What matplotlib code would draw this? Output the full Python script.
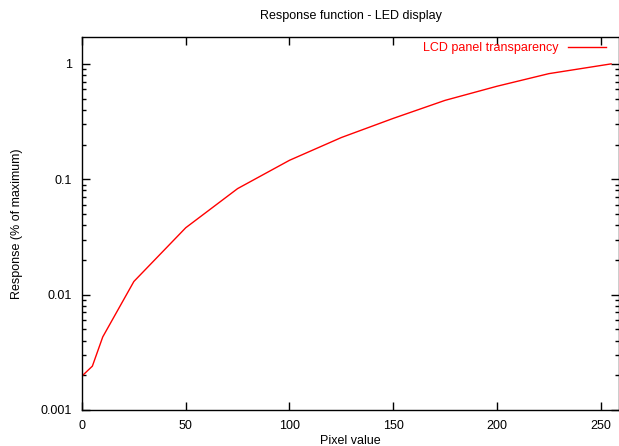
import matplotlib

matplotlib.use("Agg")
import matplotlib.pyplot as plt
from matplotlib.ticker import LogLocator, FixedLocator, NullFormatter

# pixel value vs. relative response
pixel = [0, 5, 10, 25, 50, 75, 100, 125, 150, 175, 200, 225, 255]
response = [0.00197, 0.0024, 0.0043, 0.013, 0.038, 0.083, 0.146, 0.23, 0.337,
            0.483, 0.64, 0.823, 1.0]

title = "Response function - LED display"
series_label = "LCD panel transparency"
xticks = [0, 50, 100, 150, 200, 250]
yticks = [0.001, 0.01, 0.1, 1]
ytick_labels = ["0.001", "0.01", "0.1", "1"]

plt.rcParams["font.family"] = ["Liberation Sans", "DejaVu Sans"]
plt.rcParams["font.size"] = 9

fig = plt.figure(figsize=(6.19, 4.46), dpi=100)
ax = fig.add_axes([82 / 619, 36 / 446, 537 / 619, 373 / 446])

ax.plot(pixel, response, color="red", lw=1, label=series_label)

ax.set_yscale("log")
ax.set_xlim(0, 258.8)
ax.set_ylim(0.001, 1.71)

ax.xaxis.set_major_locator(FixedLocator(xticks))
ax.yaxis.set_major_locator(FixedLocator(yticks))
ax.set_yticklabels(ytick_labels)
ax.yaxis.set_minor_locator(LogLocator(base=10, subs=range(2, 10)))
ax.yaxis.set_minor_formatter(NullFormatter())

ax.tick_params(which="both", direction="in", top=True, right=True, color="black")
ax.tick_params(which="major", length=6, width=1, pad=7)
ax.tick_params(which="minor", length=3, width=1)
for s in ax.spines.values():
    s.set_linewidth(1)

ax.set_title(title, fontsize=9, pad=13)
ax.set_xlabel("Pixel value", labelpad=2)
ax.set_ylabel("Response (% of maximum)", labelpad=13)

leg = ax.legend(loc="upper right", bbox_to_anchor=(0.985, 1.0), frameon=False,
                markerfirst=False, labelcolor="red", handlelength=3.0,
                borderaxespad=0.1, borderpad=0.3, handletextpad=0.8)

fig.savefig("out.png", dpi=100)
